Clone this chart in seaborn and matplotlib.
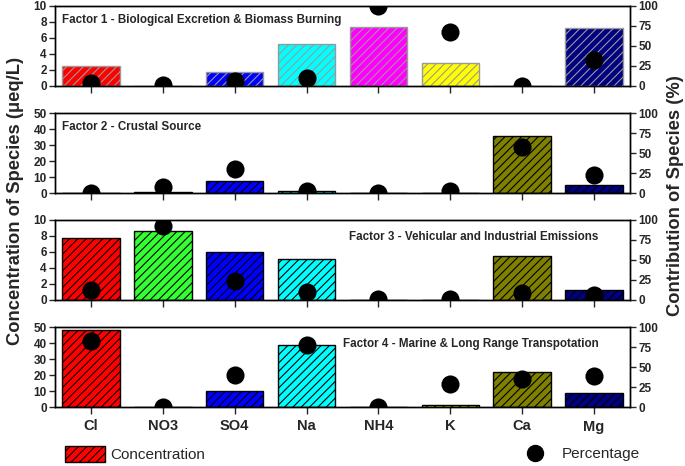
import matplotlib
matplotlib.use("Agg")
import matplotlib.pyplot as plt
import seaborn as sns
import pandas as pd
from matplotlib.patches import Patch
from matplotlib.lines import Line2D

sns.set_theme(style="white")
plt.rcParams['font.family'] = ['Liberation Sans', 'DejaVu Sans']
plt.rcParams['hatch.linewidth'] = 0.8

species = ["Cl", "NO3", "SO4", "Na", "NH4", "K", "Ca", "Mg"]
colors = ["#ff0000", "#33ff33", "#0000ff", "#00ffff", "#ff00ff", "#ffff00", "#808000", "#000080"]

titles = ["Factor 1 - Biological Excretion & Biomass Burning",
          "Factor 2 - Crustal Source",
          "Factor 3 - Vehicular and Industrial Emissions",
          "Factor 4 - Marine & Long Range Transpotation"]

conc_f1 = [2.5, 0.0, 1.8, 5.3, 7.4, 2.9, 0.0, 7.3]
conc_f2 = [0.0, 0.8, 7.2, 1.2, 0.0, 0.0, 35.5, 4.8]
conc_f3 = [7.7, 8.6, 6.0, 5.1, 0.0, 0.0, 5.5, 1.3]
conc_f4 = [48.0, 0.0, 10.0, 39.0, 0.0, 1.2, 22.0, 8.8]

pct_f1 = [4, 1, 6, 10, 100, 67, 0, 33]
pct_f2 = [0, 8, 30, 3, 0, 3, 57, 23]
pct_f3 = [13, 92, 24, 10, 1, 1, 9, 6]
pct_f4 = [82, 0, 40, 77, 0, 29, 35, 39]

conc = [conc_f1, conc_f2, conc_f3, conc_f4]
pct = [pct_f1, pct_f2, pct_f3, pct_f4]
ymax = [10, 50, 10, 50]
ystep = [2, 10, 2, 10]

W, H = 685, 466
fig = plt.figure(figsize=(W / 100, H / 100), dpi=100)

left, right = 55 / W, 630 / W
tops = [6, 113, 220, 327]
ph = 80

for i in range(4):
    ax = fig.add_axes([left, 1 - (tops[i] + ph) / H, right - left, ph / H])
    df = pd.DataFrame({"species": species, "conc": conc[i]})
    sns.barplot(data=df, x="species", y="conc", hue="species", palette=colors,
                order=species, hue_order=species, legend=False, width=0.8,
                ax=ax, saturation=1)
    edge = "#999999" if i == 0 else "black"
    for p in ax.patches:
        p.set_hatch("////")
        p.set_edgecolor(edge)
        p.set_linewidth(1.0)
        p.set_zorder(2)
    ax.set_xlim(-0.5, 7.5)
    ax.set_ylim(0, ymax[i])
    ax.set_yticks(range(0, ymax[i] + 1, ystep[i]))
    ax.set_xlabel("")
    ax.set_ylabel("")
    ax.tick_params(axis="y", direction="out", length=4, width=1, labelsize=8.5, pad=2, left=True)
    ax.tick_params(axis="x", direction="out", length=5, width=1, bottom=True, pad=4)
    for lab in ax.get_yticklabels():
        lab.set_fontweight("bold")
    if i < 3:
        ax.set_xticklabels([])
    else:
        ax.set_xticklabels(species, fontsize=10.5, fontweight="bold")
    for s in ax.spines.values():
        s.set_color("black")
        s.set_linewidth(1.0)

    ax2 = ax.twinx()
    dfp = pd.DataFrame({"species": species, "pct": pct[i]})
    sns.scatterplot(data=dfp, x="species", y="pct", color="black", s=170,
                    edgecolor="black", linewidth=0, ax=ax2, legend=False, zorder=3)
    for c in ax2.collections:
        c.set_clip_on(True)
    ax2.set_ylim(0, 100)
    ax2.set_yticks([0, 25, 50, 75, 100])
    ax2.set_ylabel("")
    ax2.tick_params(axis="y", direction="out", length=4, width=1, labelsize=8.5, pad=2, right=True)
    for lab in ax2.get_yticklabels():
        lab.set_fontweight("bold")
    for s in ax2.spines.values():
        s.set_color("black")
        s.set_linewidth(1.0)

    if i in (0, 1):
        ax.text(0.012, 0.83, titles[i], transform=ax.transAxes, fontsize=8.4,
                fontweight="bold", ha="left", va="center")
    else:
        ax.text(0.945, 0.79, titles[i], transform=ax.transAxes, fontsize=8.4,
                fontweight="bold", ha="right", va="center")

fig.text(16 / W, 1 - 201 / H, "Concentration of Species (\u03bceq/L)", rotation=90,
         fontsize=13.2, fontweight="bold", ha="center", va="center")
fig.text(675 / W, 1 - 196 / H, "Contribution of Species (%)", rotation=90,
         fontsize=13.2, fontweight="bold", ha="center", va="center")

h1 = Patch(facecolor=colors[0], edgecolor="black", hatch="////", label="Concentration")
fig.legend(handles=[h1], loc="center left", bbox_to_anchor=(65 / W, 1 - 454 / H),
           frameon=False, fontsize=11, handlelength=2.6, handleheight=1.25,
           handletextpad=0.33, borderpad=0, borderaxespad=0)
h2 = Line2D([], [], marker="o", color="black", linestyle="none", markersize=11.5,
            label="Percentage")
fig.legend(handles=[h2], loc="center left", bbox_to_anchor=(520 / W, 1 - 454 / H),
           frameon=False, fontsize=11, handlelength=2.0, handletextpad=0.75,
           borderpad=0, borderaxespad=0)

fig.savefig("out.png", dpi=100)
